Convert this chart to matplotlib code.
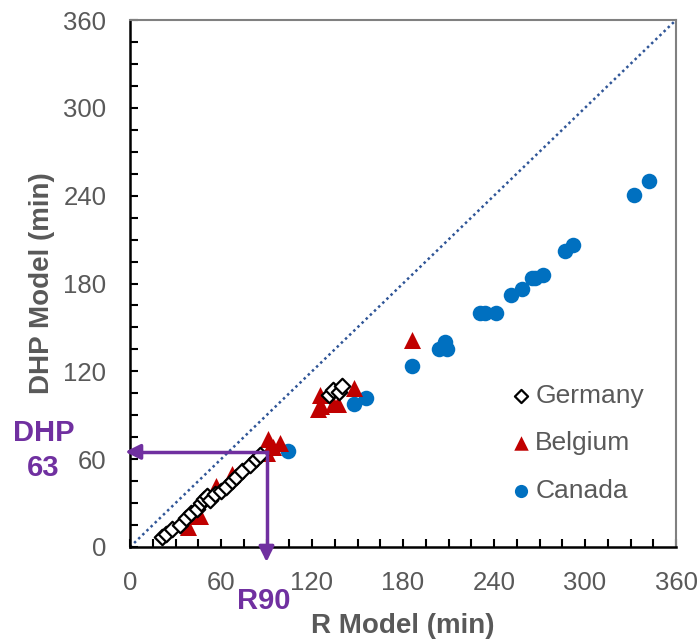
import matplotlib
matplotlib.use("Agg")
import matplotlib.pyplot as plt
from matplotlib.ticker import MultipleLocator

plt.rcParams['font.family'] = ['Liberation Sans', 'DejaVu Sans']

germany_x = [21, 24, 28, 33, 37, 40, 44, 47, 49, 51, 53, 56, 60, 63, 67, 70, 74, 79, 83, 86, 131, 134, 138, 140]
germany_y = [7, 9, 12, 15, 20, 23, 26, 30, 33, 35, 32, 36, 38, 41, 45, 48, 52, 56, 60, 63, 104, 107, 106, 110]

belgium_x = [35, 38.5, 39.5, 46, 57, 67, 90, 91, 94.5, 99, 124, 125, 126, 134, 137, 148, 186]
belgium_y = [17, 14, 21, 21, 42, 50, 64, 74, 68, 71, 94, 104, 96, 98, 98, 108.5, 141.5]

canada_x = [104, 147.7, 155.4, 186, 203.7, 208, 209, 231, 234, 241, 251, 258.6, 265, 267, 272, 287, 292, 332, 342]
canada_y = [65.6, 97.5, 101.6, 123.7, 135.5, 140, 135.5, 160, 160, 160, 172, 176, 184, 184, 186, 202, 206, 240.6, 250]

ticks_major = [0, 60, 120, 180, 240, 300, 360]
r90_x, dhp63_y = 90, 65

purple = '#7030A0'
gray_text = '#595959'

fig = plt.figure(figsize=(7.0, 6.43), dpi=100)
ax = fig.add_axes([130/700, 1-547/643, (676-130)/700, (547-20)/643])

ax.plot([0, 360], [0, 360], linestyle=(0, (1, 1.3)), color='#2F5597', linewidth=1.8, zorder=1)

ax.scatter(canada_x, canada_y, s=125, marker='o', color='#0070C0', zorder=3, label='Canada', linewidths=0)
ax.scatter(belgium_x, belgium_y, s=150, marker='^', color='#C00000', zorder=4, label='Belgium', linewidths=0)
ax.scatter(germany_x, germany_y, s=62, marker='D', facecolors='white', edgecolors='black', linewidths=1.6, zorder=5, label='Germany')

# R90 / DHP63 guide arrows
ax.plot([r90_x, r90_x], [dhp63_y, -5], color=purple, linewidth=2.5, clip_on=False, zorder=6)
ax.annotate('', xy=(r90_x, -12), xytext=(r90_x, -3),
            arrowprops=dict(arrowstyle='-|>,head_width=0.45,head_length=0.9', color=purple, lw=2.5),
            annotation_clip=False, zorder=6)
ax.plot([r90_x, 2], [dhp63_y, dhp63_y], color=purple, linewidth=2.5, clip_on=False, zorder=6)
ax.annotate('', xy=(-5, dhp63_y), xytext=(4, dhp63_y),
            arrowprops=dict(arrowstyle='-|>,head_width=0.45,head_length=0.9', color=purple, lw=2.5),
            annotation_clip=False, zorder=6)

ax.text(-57, 66, 'DHP\n63', color=purple, fontsize=21, fontweight='bold',
        ha='center', va='center', linespacing=1.35, clip_on=False)
ax.text(r90_x - 2, -37, 'R90', color=purple, fontsize=21, fontweight='bold',
        ha='center', va='center', clip_on=False, zorder=7)

ax.set_xlim(0, 360)
ax.set_ylim(0, 360)
ax.set_xticks(ticks_major)
ax.set_yticks(ticks_major)
ax.xaxis.set_minor_locator(MultipleLocator(15))
ax.yaxis.set_minor_locator(MultipleLocator(15))
ax.tick_params(which='both', direction='in', length=6, width=1.5, color='black')
ax.tick_params(axis='x', which='major', pad=17, labelsize=18.5, labelcolor=gray_text)
ax.tick_params(axis='y', which='major', pad=17, labelsize=18.5, labelcolor=gray_text)
ax.tick_params(top=False, right=False, which='both')

for s in ['left', 'bottom']:
    ax.spines[s].set_color('black')
    ax.spines[s].set_linewidth(1.8)
for s in ['top', 'right']:
    ax.spines[s].set_color('#808080')
    ax.spines[s].set_linewidth(1.5)

ax.set_xlabel('R Model (min)', fontsize=20, fontweight='bold', color=gray_text, labelpad=13)
ax.set_ylabel('DHP Model (min)', fontsize=20, fontweight='bold', color=gray_text, labelpad=6)

handles, labels = ax.get_legend_handles_labels()
order = [2, 1, 0]
leg = ax.legend([handles[i] for i in order], [labels[i] for i in order],
                loc='upper left', bbox_to_anchor=(0.66, 0.33), frameon=False,
                fontsize=19, handletextpad=-0.2, labelspacing=0.9, markerscale=0.85,
                borderaxespad=0, handlelength=1.5)
for t in leg.get_texts():
    t.set_color(gray_text)

fig.savefig('out.png', dpi=100)
